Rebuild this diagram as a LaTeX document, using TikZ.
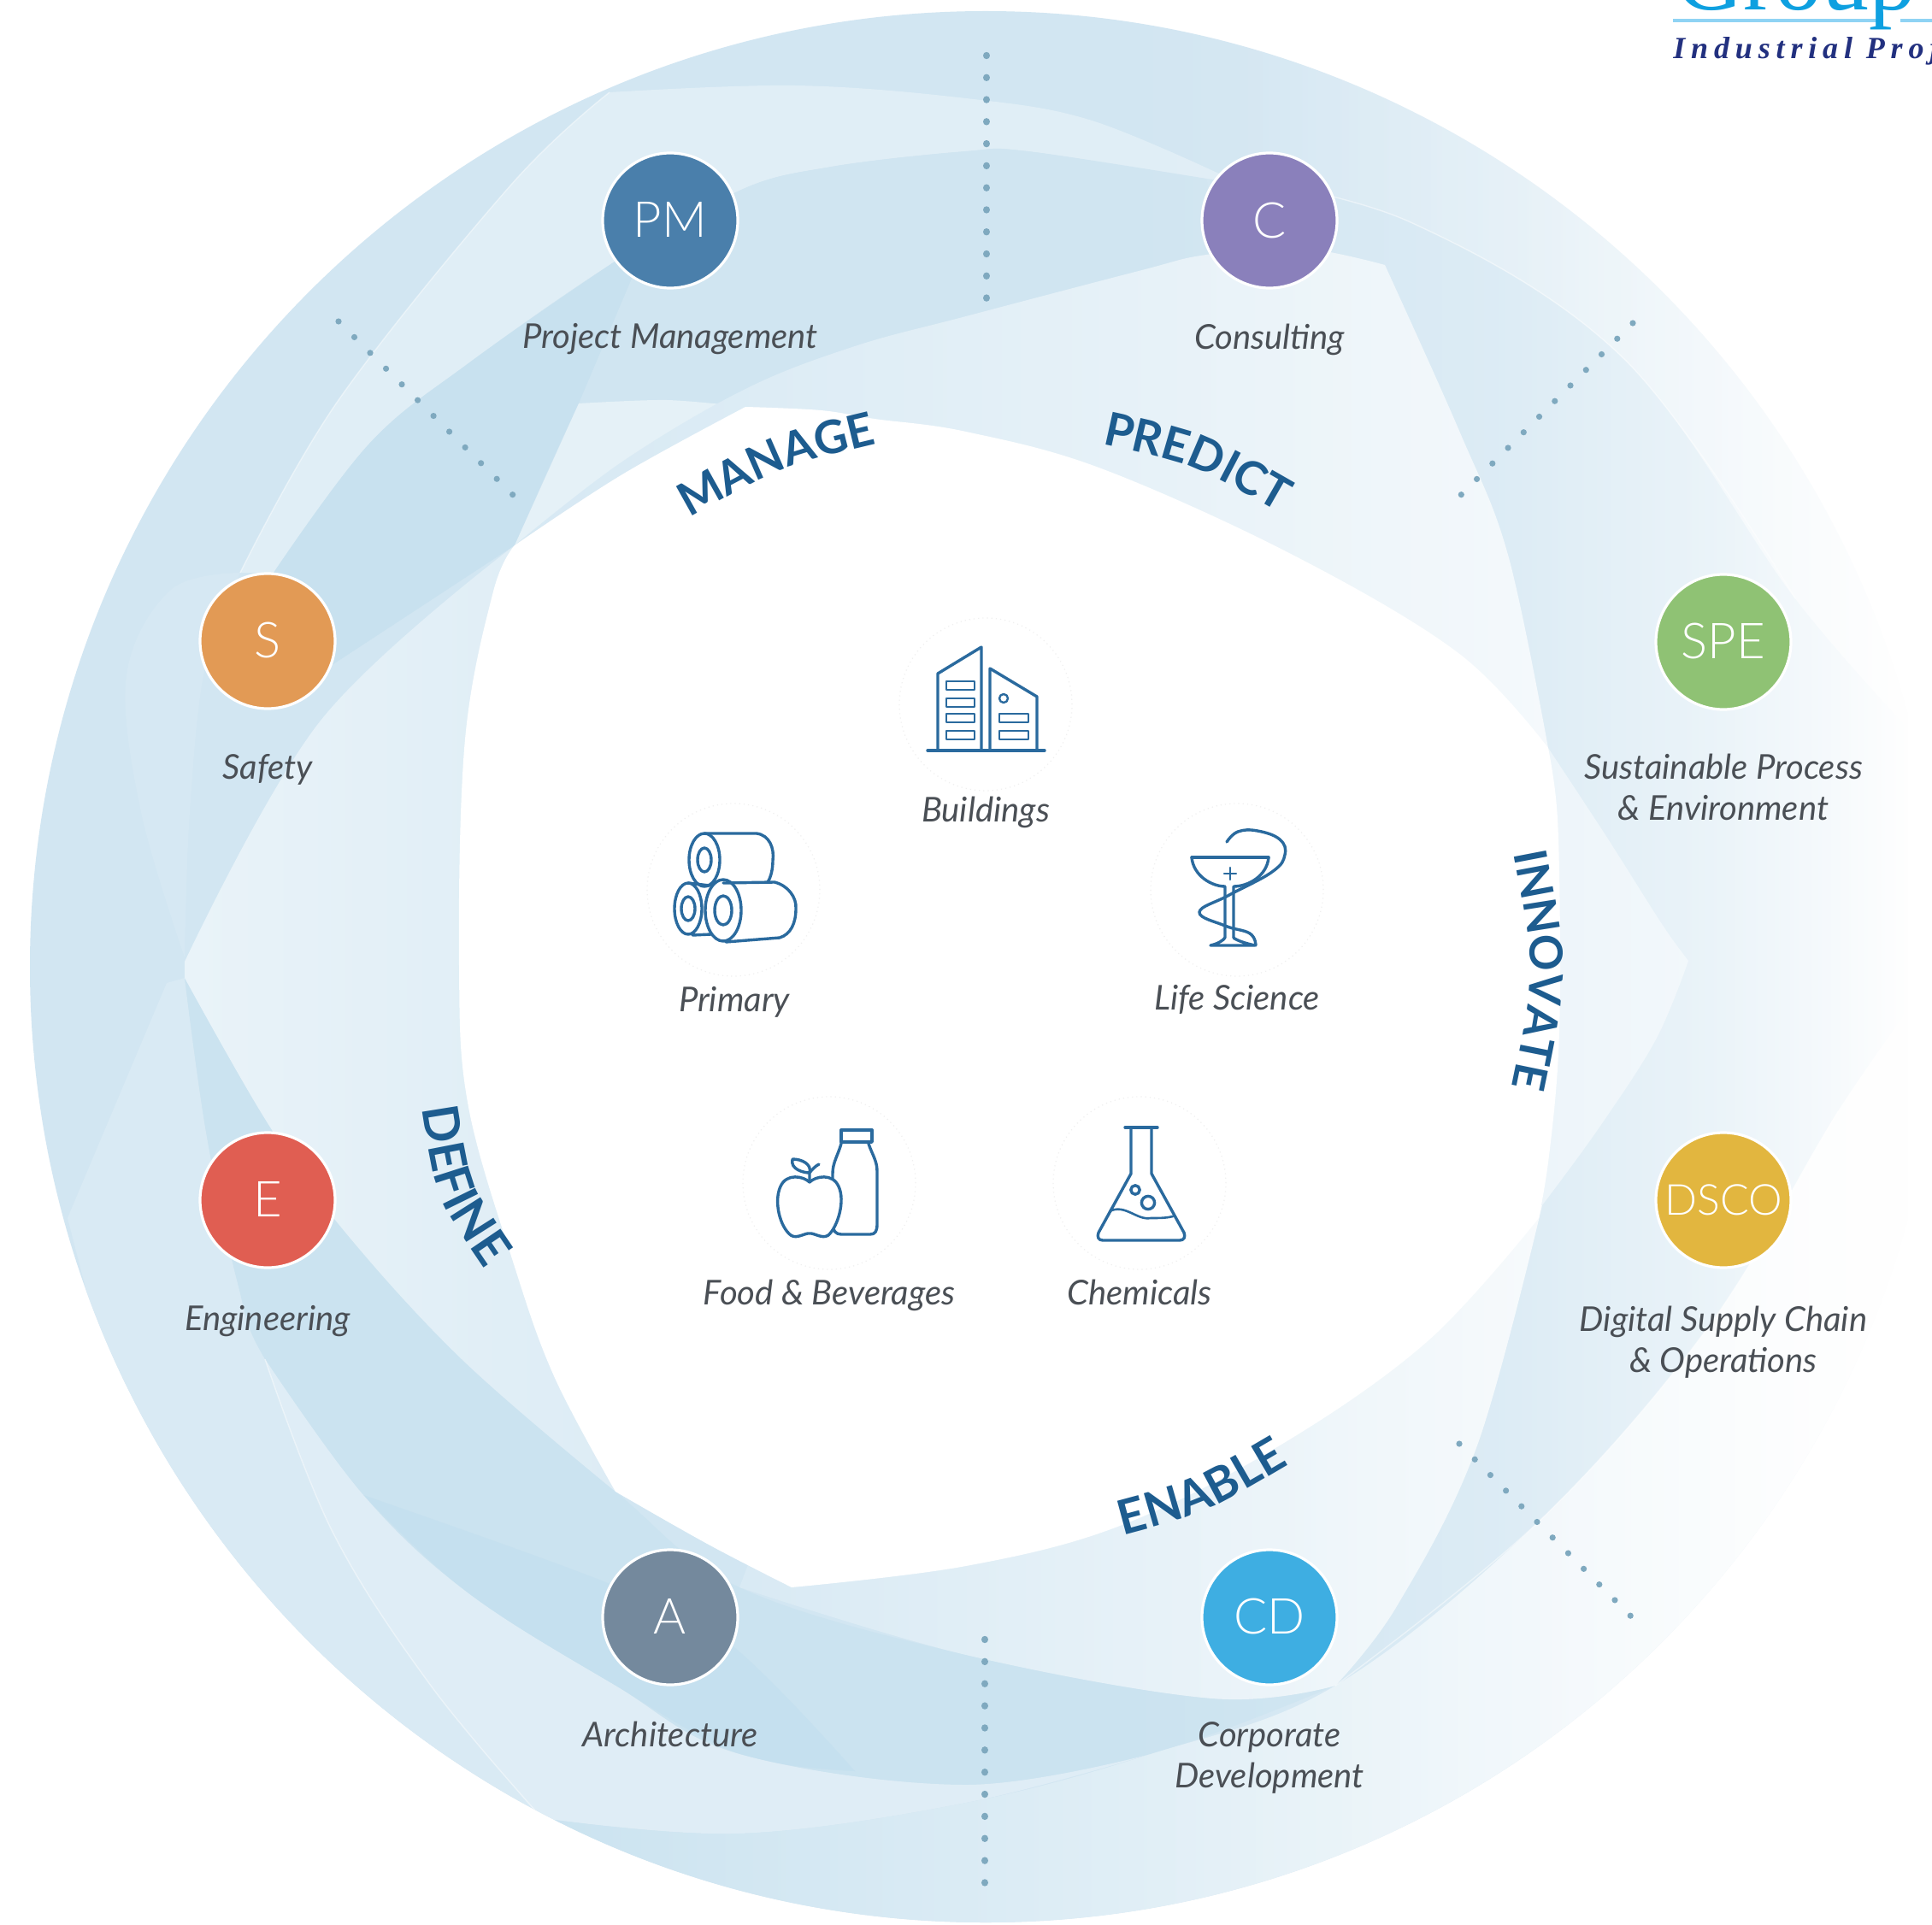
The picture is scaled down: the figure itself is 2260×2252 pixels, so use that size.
\documentclass[tikz,border=0pt]{standalone}
\usepackage{fontspec}
\setmainfont{Lato}
\newfontfamily\latolight{Lato Light}
\newfontfamily\logofont{Liberation Serif}
\newfontfamily\logospaced[LetterSpace=19]{Liberation Serif}
\usetikzlibrary{fadings,decorations.text}
\definecolor{ringbase}{HTML}{D2E6F2}
\definecolor{ringlight}{HTML}{E0EEF6}
\definecolor{ringdark}{HTML}{C8E1EF}
\definecolor{ringmid}{HTML}{D0E5F1}
\definecolor{ringlow}{HTML}{CBE3F0}
\definecolor{ringdeep}{HTML}{C5E0EF}
\definecolor{dotblue}{HTML}{7FA9BF}
\definecolor{iconblue}{HTML}{2A6A9E}
\definecolor{labelgrey}{HTML}{4A4F55}
\definecolor{bandblue}{HTML}{1D5C8F}
\pgfdeclarehorizontalshading{fadeshade}{100bp}{color(0bp)=(pgftransparent!100); color(25bp)=(pgftransparent!100); color(37.5bp)=(pgftransparent!90); color(50bp)=(pgftransparent!75); color(62.5bp)=(pgftransparent!45); color(70bp)=(pgftransparent!20); color(75bp)=(pgftransparent!0); color(100bp)=(pgftransparent!0)}
\pgfdeclarefading{rightfade}{\pgfuseshading{fadeshade}}
\tikzfading[name=softeast,left color=transparent!100,right color=transparent!0]
\newcommand{\bandtext}[2]{|\fontsize{#1}{30}\selectfont\bfseries\color{bandblue}|#2}
\tikzset{
  x=0.5pt,y=-0.5pt,
  badge/.style={circle,minimum size=79pt,inner sep=0pt,draw=white,line width=1.6pt,text=white,font=\latolight\fontsize{29}{30}\selectfont,text depth=0pt},
  lab/.style={text=labelgrey,align=center,inner sep=0pt,font=\itshape\fontsize{20}{24}\selectfont},
  halo/.style={circle,minimum size=101pt,inner sep=0pt,draw=black!6,dotted,line width=.6pt,fill=white},
  icon/.style={draw=iconblue,line width=1.7pt,line join=round,line cap=round,fill=none},
  dotline/.style={draw=dotblue,line cap=round,line width=4.2pt},
  edgeline/.style={draw=white,opacity=.45,line width=.7pt},
  bandpath/.style n args={2}{decorate,decoration={text along path,text align=center,text={\bandtext{#1}{#2}}}}
}
\begin{document}
\begin{tikzpicture}
\useasboundingbox (0,0) rectangle (2260,2252);
\fill[white] (0,0) rectangle (2260,2252);
% ---- the ring
\begin{scope}
\clip (1153,1131) ellipse [x radius=559pt,y radius=559pt];
\fill[ringbase] (0,0) rectangle (2300,2300);
% faint rim blade left
\fill[color=white,opacity=.09] plot[smooth,tension=.6] coordinates {(216,1120) (165,950) (148,790) (200,690) (281,670)} -- plot[smooth,tension=.6] coordinates {(281,670) (240,780) (222,950) (216,1120)} -- cycle;
% upper right outer blade
\fill[color=white,opacity=.7,path fading=softeast] plot[smooth,tension=.6] coordinates {(1430,205) (1650,260) (1900,420) (2100,700) (2240,860)} -- (2300,860) -- (2300,0) -- (1430,0) -- cycle;
% upper crescent
\fill[ringlight] plot[smooth,tension=.6] coordinates {(281,670) (396,468) (598,216) (713,108)} -- plot[smooth,tension=.6] coordinates {(713,108) (930,100) (1130,115) (1274,140) (1430,205)} -- plot[smooth,tension=.6] coordinates {(1430,205) (1411,209) (1202,177) (1130,177) (973,195) (865,223) (713,310) (548,425) (432,519) (320,670)} -- cycle;
% dark band S to PM
\fill[ringdark] plot[smooth,tension=.6] coordinates {(320,670) (432,519) (548,425) (713,310) (790,262)} -- plot[smooth,tension=.6] coordinates {(790,262) (750,331) (677,472) (602,638)} -- (370,790) -- (260,760) -- cycle;
% top band PM to C
\fill[ringmid] plot[smooth,tension=.6] coordinates {(750,300) (865,223) (973,195) (1130,177) (1202,177) (1411,209)} -- (1430,300) -- (872,476) -- (677,472) -- cycle;
% wedge under MANAGE
\fill[color=ringlight!85!white] plot[smooth,tension=.5] coordinates {(677,472) (780,468) (872,476)} -- (602,638) -- cycle;
% PREDICT blade
\shade[left color=ringbase!90!white,right color=ringlight!45!white] plot[smooth,tension=.6] coordinates {(602,638) (728,540) (872,455) (1000,405) (1130,370) (1332,317) (1411,298) (1520,290) (1620,310)} -- plot[smooth,tension=.6] coordinates {(1620,310) (1707,504) (1764,649) (1811,875)} -- (1130,800) -- cycle;
% right tip blade
\fill[color=ringbase!55!white] plot[smooth,tension=.6] coordinates {(1811,875) (1880,980) (1944,1081) (1975,1124)} -- plot[smooth,tension=.6] coordinates {(1975,1124) (1937,1216) (1870,1320) (1804,1410)} -- (1500,1130) -- cycle;
% left rim lighter blade
\fill[color=ringbase!85!white] (195,1150) -- (79,1425) -- (150,1700) -- (400,2000) -- (634,2127) -- plot[smooth,tension=.6] coordinates {(634,2127) (504,1972) (389,1792) (310,1590) (277,1497) (241,1324) (216,1144)} -- cycle;
% lower band
\fill[ringlow] plot[smooth,tension=.6] coordinates {(216,1144) (241,1324) (277,1497) (310,1590) (425,1749) (548,1864) (720,1972) (865,2052) (1130,2088) (1346,2052) (1562,1972)} -- plot[smooth,tension=.6] coordinates {(1562,1972) (1418,1987) (1130,1936) (865,1857) (720,1745) (540,1590) (396,1432) (310,1309) (216,1144)} -- cycle;
% darkest wedge
\fill[ringdeep] plot[smooth,tension=.6] coordinates {(425,1749) (706,1850) (850,1920) (1000,2072)} -- plot[smooth,tension=.6] coordinates {(1000,2072) (865,2052) (720,1972) (548,1864) (425,1749)} -- cycle;
% lower light strip
\fill[color=ringlight!90!ringbase] plot[smooth,tension=.6] coordinates {(310,1590) (389,1792) (504,1972) (634,2127)} -- plot[smooth,tension=.6] coordinates {(634,2127) (865,2145) (1130,2109) (1346,2052)} -- plot[smooth,tension=.6] coordinates {(1346,2052) (1130,2088) (865,2052) (720,1972) (548,1864) (425,1749) (310,1590)} -- cycle;
% bottom rim
\shade[left color=ringlow,middle color=ringbase,right color=white!97!ringbase] plot[smooth,tension=.6] coordinates {(634,2127) (865,2145) (1130,2109) (1346,2052) (1562,1972) (1800,1780) (2000,1550) (2150,1300) (2270,1130)} -- (2300,1130) -- (2300,2300) -- (634,2300) -- cycle;
% ENABLE blade
\shade[left color=ringbase!85!white,right color=ringlight!35!white] plot[smooth,tension=.6] coordinates {(865,1857) (1130,1936) (1418,1987) (1562,1972)} -- plot[smooth,tension=.6] coordinates {(1562,1972) (1634,1879) (1728,1691) (1804,1410)} -- (1000,1500) -- cycle;
% DEFINE blade
\shade[left color=ringlight!70!white,right color=ringbase!80!white] plot[smooth,tension=.6] coordinates {(216,1125) (375,843) (602,638)} -- (800,1100) -- plot[smooth,tension=.6] coordinates {(720,1745) (540,1590) (396,1432) (310,1309) (216,1144)} -- cycle;
% faint edges
\draw[edgeline] plot[smooth,tension=.6] coordinates {(1430,205) (1650,260) (1900,420) (2100,700)};
\draw[edgeline] plot[smooth,tension=.6] coordinates {(1562,1972) (1800,1780) (2000,1550) (2150,1300)};
\draw[edgeline] plot[smooth,tension=.6] coordinates {(310,1590) (389,1792) (504,1972) (634,2127)};
\draw[edgeline] plot[smooth,tension=.6] coordinates {(281,670) (396,468) (598,216) (713,108)};
\end{scope}
% right hand fade
\fill[white,path fading=rightfade] (1300,-10) rectangle (2235,2262);
\fill[white] (2232,0) rectangle (2260,2252);
% inner white shape
\fill[white] plot[smooth,tension=.6] coordinates {(602,638) (728,555) (872,476)} -- plot[smooth,tension=.6] coordinates {(872,476) (960,480) (1023,490) (1130,505) (1288,548) (1512,649) (1706,764) (1811,875)} -- plot[smooth,tension=.6] coordinates {(1811,875) (1822,958) (1825,1130) (1822,1250) (1811,1360) (1800,1425)} -- plot[smooth,tension=.6] coordinates {(1800,1425) (1670,1569) (1497,1691) (1310,1785) (1130,1832) (926,1857)} -- plot[smooth,tension=.6] coordinates {(926,1857) (829,1807) (720,1745)} -- plot[smooth,tension=.6] coordinates {(720,1745) (649,1612) (602,1482) (548,1295) (537,1130) (544,865) (577,692) (602,638)} -- cycle;
% ---- dotted dividers
\coordinate (dt1) at (1154,65);   \coordinate (dt2) at (1154,349);
\coordinate (db1) at (1152,1918); \coordinate (db2) at (1152,2203);
\coordinate (dl1) at (396,376);   \coordinate (dl2) at (600,579);
\coordinate (dr1) at (1910,378);  \coordinate (dr2) at (1709,579);
\coordinate (de1) at (1707,1689); \coordinate (de2) at (1908,1891);
\draw[dotline,dash pattern=on 0.01pt off 12.88pt] (dt1) -- (dt2);
\draw[dotline,dash pattern=on 0.01pt off 12.92pt] (db1) -- (db2);
\draw[dotline,line width=3.6pt,dash pattern=on 0.01pt off 13.05pt] (dl1) -- (dl2);
\draw[dotline,line width=3.6pt,dash pattern=on 0.01pt off 12.89pt] (dr1) -- (dr2);
\draw[dotline,line width=3.6pt,dash pattern=on 0.01pt off 12.89pt] (de1) -- (de2);
% ---- badges
\node[badge,fill={rgb,255:red,74;green,127;blue,171}] (pm) at (784,258) {\raisebox{1.5pt}{PM}};
\node[badge,fill={rgb,255:red,138;green,128;blue,187}] (c) at (1485,258) {C};
\node[badge,fill={rgb,255:red,226;green,154;blue,85}] (s) at (313,750) {\raisebox{1.5pt}{S}};
\node[badge,fill={rgb,255:red,143;green,194;blue,116}] (spe) at (2016,751) {\raisebox{1.5pt}{SPE}};
\node[badge,fill={rgb,255:red,224;green,94;blue,82}] (e) at (313,1404) {\raisebox{1.5pt}{E}};
\node[badge,fill={rgb,255:red,226;green,182;blue,63}] (dsco) at (2016,1404) {\fontsize{25}{26}\selectfont DSCO};
\node[badge,fill={rgb,255:red,116;green,137;blue,157}] (a) at (784,1892) {\raisebox{1.5pt}{A}};
\node[badge,fill={rgb,255:red,62;green,174;blue,226}] (cd) at (1485,1892) {\raisebox{1.5pt}{CD}};
% ---- badge labels
\node[lab] (lpm) at (784,397) {Project Management};
\node[lab] (lc) at (1485,397) {Consulting};
\node[lab] (ls) at (313,900) {Safety};
\node[lab] (lspe) at (2016,921) {Sustainable Process\\\& Environment};
\node[lab] (le) at (313,1546) {Engineering};
\node[lab] (ldsco) at (2016,1570) {Digital Supply Chain\\\& Operations};
\node[lab] (la) at (784,2029) {Architecture};
\node[lab] (lcd) at (1485,2056) {Corporate\\Development};
% ---- curved words
\path[bandpath={27}{MANAGE}] (806,606) .. controls (913,546) .. (1026,519);
\path[bandpath={27}{PREDICT}] (1293,520) .. controls (1397,543) .. (1493,598);
\path[bandpath={26.5}{INNOVATE}] (1770,995) .. controls (1797,1135) .. (1768,1275);
\path[bandpath={29}{DEFINE}] (494,1300) .. controls (510,1401) .. (565,1482);
\path[bandpath={28}{ENABLE}] (1314,1796) .. controls (1411,1770) .. (1508,1713);
% ---- sector icons
\node[halo] (hb) at (1153,824) {};
\node[halo] (hp) at (858,1041) {};
\node[halo] (hl) at (1447,1041) {};
\node[halo] (hf) at (970,1384) {};
\node[halo] (hc) at (1333,1384) {};
\node[lab] (tb) at (1153,950) {Buildings};
\node[lab] (tp) at (859,1172) {Primary};
\node[lab] (tl) at (1447,1169) {Life Science};
\node[lab] (tf) at (970,1515) {Food \& Beverages};
\node[lab] (tc) at (1333,1512) {Chemicals};
% buildings
\draw[icon] (1085,878) -- (1222,878);
\draw[icon] (1097,878) -- (1097,788) -- (1148,757) -- (1148,878);
\draw[icon] (1158,878) -- (1158,782) -- (1213,815) -- (1213,878);
\foreach \yy in {797,817,835,855} \draw[icon,line width=1.2pt] (1107,\yy) rectangle (1140,\yy+10);
\foreach \yy in {835,855} \draw[icon,line width=1.2pt] (1169,\yy) rectangle (1203,\yy+10);
\draw[icon,line width=1.2pt] (1174,817) ellipse [x radius=2.5pt,y radius=2.5pt];
% primary rolls
\draw[icon] (824,1006) ellipse [x radius=9pt,y radius=15.5pt];
\draw[icon] (824,1006) ellipse [x radius=4pt,y radius=7pt];
\draw[icon] (824,975) -- (885,975) .. controls (900,977) and (906,992) .. (904,1007) .. controls (904,1016) and (902,1026) .. (898,1032);
\draw[icon] (805,1063) ellipse [x radius=8pt,y radius=15pt];
\draw[icon] (805,1063) ellipse [x radius=4pt,y radius=7pt];
\draw[icon] (846,1065) ellipse [x radius=10.5pt,y radius=18pt];
\draw[icon] (846,1065) ellipse [x radius=5pt,y radius=8.5pt];
\draw[icon] (846,1033) -- (906,1032) .. controls (922,1036) and (932,1050) .. (931,1063) .. controls (931,1080) and (925,1093) .. (912,1097) -- (849,1102);
\draw[icon] (805,1033) -- (830,1036);
\draw[icon] (810,1094) -- (832,1093);
% life science
\draw[icon] (1394,1003) -- (1484,1003);
\draw[icon] (1394,1003) .. controls (1396,1025) and (1418,1037) .. (1433,1037) -- (1433,1097);
\draw[icon] (1484,1003) .. controls (1482,1025) and (1460,1037) .. (1443,1037) -- (1443,1097);
\draw[icon] (1433,1097) .. controls (1431,1100) and (1425,1104) .. (1416,1106) -- (1468,1106) .. controls (1458,1104) and (1446,1100) .. (1443,1097);
\draw[icon,line width=1.2pt] (1439,1015) -- (1439,1029) (1432,1022) -- (1446,1022);
\draw[icon] plot[smooth,tension=.7] coordinates {(1435,985) (1448,973) (1471,972) (1497,982) (1503,1000) (1488,1020) (1438,1047) (1403,1067) (1433,1083) (1462,1092) (1469,1106)};
% food
\draw[icon] (984,1322) rectangle (1020,1336);
\draw[icon] (984,1338) .. controls (980,1352) and (974,1360) .. (974,1373) -- (974,1432) .. controls (974,1440) and (978,1444) .. (984,1444) -- (1018,1444) .. controls (1024,1444) and (1026,1440) .. (1026,1432) -- (1026,1370) .. controls (1026,1358) and (1020,1350) .. (1016,1338);
\draw[icon,fill=white] (947,1383) .. controls (940,1376) and (920,1372) .. (913,1388) .. controls (905,1405) and (912,1435) .. (925,1445) .. controls (932,1450) and (942,1442) .. (947,1443) .. controls (952,1442) and (962,1450) .. (969,1445) .. controls (980,1435) and (989,1405) .. (981,1388) .. controls (974,1372) and (954,1376) .. (947,1383);
\draw[icon] (947,1383) -- (947,1372) .. controls (940,1372) and (924,1368) .. (927,1356) .. controls (938,1356) and (950,1362) .. (947,1372) .. controls (950,1368) and (954,1364) .. (958,1362);
% flask
\draw[icon] (1316,1319) -- (1354,1319);
\draw[icon] (1323,1319) -- (1323,1373) -- (1285,1442) .. controls (1283,1447) and (1285,1451) .. (1290,1451) -- (1380,1451) .. controls (1385,1451) and (1387,1447) .. (1385,1442) -- (1347,1373) -- (1347,1319);
\draw[icon,line width=1.3pt] (1298,1417) .. controls (1316,1408) and (1330,1428) .. (1346,1425) .. controls (1356,1425) and (1364,1425) .. (1372,1423);
\draw[icon] (1328,1392) ellipse [x radius=2.6pt,y radius=2.6pt];
\draw[icon] (1343,1407) ellipse [x radius=3.8pt,y radius=3.8pt];
% ---- logo fragment
\draw[line width=2pt,draw={rgb,255:red,143;green,211;blue,244}] (1957,24) -- (2202,24) (2223,24) -- (2260,24);
\node[anchor=base west,inner sep=0pt,text={rgb,255:red,14;green,160;blue,224},font=\logofont\fontsize{55}{55}\selectfont] (lg) at (1960,12) {Group};
\node[anchor=base west,inner sep=0pt,text={rgb,255:red,34;green,48;blue,127},font=\logospaced\bfseries\itshape\fontsize{18}{18}\selectfont] (lgs) at (1957,69) {Industrial Proj};
\end{tikzpicture}
\end{document}
